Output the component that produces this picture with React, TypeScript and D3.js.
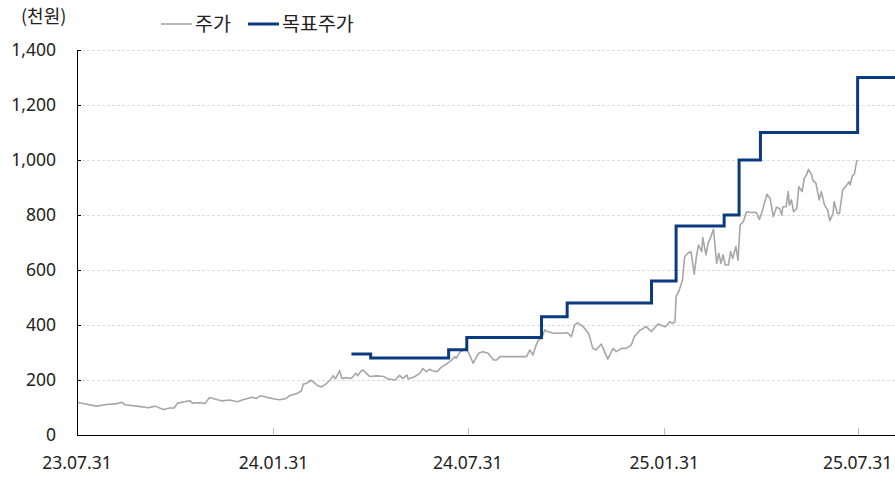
import React from 'react';
import * as d3 from 'd3';

const priceDates = [
  '2023-07-31','2023-08-08','2023-08-18','2023-08-28','2023-09-06','2023-09-11','2023-09-14','2023-09-25',
  '2023-10-06','2023-10-12','2023-10-20','2023-10-26','2023-10-30','2023-11-02','2023-11-08','2023-11-14',
  '2023-11-16','2023-11-22','2023-11-28','2023-12-02','2023-12-07','2023-12-14','2023-12-21','2023-12-28',
  '2024-01-04','2024-01-11','2024-01-15','2024-01-19','2024-01-26','2024-02-01','2024-02-06','2024-02-12',
  '2024-02-15','2024-02-22','2024-02-26','2024-02-28','2024-03-02','2024-03-06','2024-03-08','2024-03-13',
  '2024-03-16','2024-03-21','2024-03-24','2024-03-27','2024-03-29','2024-04-02','2024-04-04','2024-04-08',
  '2024-04-13','2024-04-17','2024-04-19','2024-04-22','2024-04-24','2024-04-26','2024-04-30','2024-05-07',
  '2024-05-13','2024-05-17','2024-05-24','2024-05-28','2024-05-31','2024-06-04','2024-06-05','2024-06-11',
  '2024-06-16','2024-06-19','2024-06-22','2024-06-25','2024-06-28','2024-07-02','2024-07-06','2024-07-11',
  '2024-07-16','2024-07-19','2024-07-20','2024-07-24','2024-07-27','2024-07-29','2024-08-01','2024-08-05',
  '2024-08-10','2024-08-14','2024-08-19','2024-08-24','2024-08-27','2024-08-30','2024-09-24','2024-09-27',
  '2024-09-30','2024-10-03','2024-10-05','2024-10-08','2024-10-11','2024-10-14','2024-10-19','2024-10-25',
  '2024-11-01','2024-11-05','2024-11-08','2024-11-11','2024-11-16','2024-11-21','2024-11-22','2024-11-25',
  '2024-11-28','2024-12-03','2024-12-06','2024-12-09','2024-12-14','2024-12-17','2024-12-22','2024-12-26',
  '2024-12-31','2025-01-03','2025-01-08','2025-01-14','2025-01-19','2025-01-25','2025-02-01','2025-02-05',
  '2025-02-08','2025-02-10','2025-02-11','2025-02-14','2025-02-17','2025-02-19','2025-02-22','2025-02-25',
  '2025-02-28','2025-03-02','2025-03-04','2025-03-07','2025-03-08','2025-03-11','2025-03-13','2025-03-15',
  '2025-03-18','2025-03-21','2025-03-23','2025-03-25','2025-03-27','2025-03-29','2025-04-01','2025-04-03',
  '2025-04-05','2025-04-08','2025-04-10','2025-04-12','2025-04-15','2025-04-18','2025-04-22','2025-04-27',
  '2025-04-30','2025-05-03','2025-05-07','2025-05-10','2025-05-13','2025-05-16','2025-05-19','2025-05-21',
  '2025-05-22','2025-05-25','2025-05-27','2025-05-28','2025-05-30','2025-06-01','2025-06-04','2025-06-06',
  '2025-06-09','2025-06-11','2025-06-13','2025-06-15','2025-06-18','2025-06-19','2025-06-22','2025-06-25',
  '2025-06-27','2025-06-30','2025-07-03','2025-07-05','2025-07-08','2025-07-09','2025-07-12','2025-07-14',
  '2025-07-17','2025-07-20','2025-07-23','2025-07-24','2025-07-26','2025-07-28','2025-07-30','2025-07-31',
];

const priceValues = [
  119,113,105,111,114,119,110,105,
  99,105,93,98,98,115,121,124,
  116,117,115,136,131,124,127,121,
  130,137,133,143,136,131,128,133,
  143,151,160,185,188,199,194,178,
  175,188,200,216,204,234,206,208,
  206,224,216,233,236,228,213,215,
  213,204,200,217,206,218,204,212,
  224,242,230,239,234,230,246,258,
  273,285,279,303,309,315,297,261,
  297,303,297,273,273,285,285,309,
  291,327,345,351,382,376,370,370,
  372,358,400,408,394,370,358,315,
  309,331,303,276,315,303,315,315,
  327,358,380,394,376,404,394,412,
  406,412,503,527,564,648,661,667,
  585,648,691,667,718,655,697,715,
  748,624,661,624,655,618,618,667,
  642,685,636,764,776,812,809,810,
  784,818,875,861,794,828,824,800,
  830,830,885,836,855,812,824,903,
  885,933,945,966,945,927,915,855,
  885,836,818,779,806,848,806,806,
  891,905,921,909,942,949,994,1000,
];

const targetDates = [
  '2024-04-13','2024-05-01','2024-07-13','2024-07-30','2024-10-08','2024-11-01',
  '2025-01-19','2025-02-11','2025-03-28','2025-04-11','2025-05-01','2025-07-31',
];
const targetValues = [295, 280, 310, 355, 430, 480, 560, 760, 800, 1000, 1100, 1300];

const yTicks = [0, 200, 400, 600, 800, 1000, 1200, 1400];
const xTickDates = ['2023-07-31', '2024-01-31', '2024-07-31', '2025-01-31', '2025-07-31'];
const xTickLabels = ['23.07.31', '24.01.31', '24.07.31', '25.01.31', '25.07.31'];
const domainStart = '2023-07-31';
const domainEnd = '2025-09-04';

const unitLabel = '(천원)';
const seriesNames = ['주가', '목표주가'];

const W = 895;
const H = 477;
const M = { left: 77, right: 0, top: 50, bottom: 42 };
const GREY = '#a6a6a6';
const NAVY = '#0b3a80';
const FONT = '"Noto Sans", "Noto Sans CJK KR", sans-serif';
const KFONT = '"Noto Sans CJK KR", "Noto Sans", sans-serif';

export default function App() {
  const parse = d3.timeParse('%Y-%m-%d');
  const x = d3
    .scaleTime()
    .domain([parse(domainStart)!, parse(domainEnd)!])
    .range([M.left, W - M.right]);
  const y = d3.scaleLinear().domain([0, 1400]).range([H - M.bottom, M.top]);

  const price = priceDates.map((d, i) => ({ date: parse(d)!, value: priceValues[i] }));
  const target = targetDates.map((d, i) => ({ date: parse(d)!, value: targetValues[i] }));
  target.push({ date: parse(domainEnd)!, value: targetValues[targetValues.length - 1] });

  const priceLine = d3
    .line<{ date: Date; value: number }>()
    .x((d) => x(d.date))
    .y((d) => y(d.value))
    .curve(d3.curveLinear);
  const targetLine = d3
    .line<{ date: Date; value: number }>()
    .x((d) => x(d.date))
    .y((d) => y(d.value))
    .curve(d3.curveStepAfter);

  const x0 = M.left;
  const x1 = W - M.right;
  const yBase = y(0);

  return (
    <>
      <style>{`body{margin:0;}`}</style>
      <svg width={W} height={H} style={{ display: 'block', background: '#fff' }}>
        {yTicks
          .filter((t) => t > 0)
          .map((t) => (
            <line
              key={'g' + t}
              x1={x0}
              x2={x1}
              y1={Math.round(y(t)) + 0.5}
              y2={Math.round(y(t)) + 0.5}
              stroke="#dcdcdc"
              strokeWidth={1}
              strokeDasharray="3,2"
            />
          ))}

        {yTicks.map((t) => (
          <g key={'y' + t}>
            <line
              x1={x0}
              x2={x0 + 4}
              y1={Math.round(y(t)) + 0.5}
              y2={Math.round(y(t)) + 0.5}
              stroke="#000"
              strokeWidth={1}
            />
            <text
              x={56}
              y={y(t)}
              dy="0.35em"
              textAnchor="end"
              fontFamily={FONT}
              fontSize={17.5}
              fill="#222"
            >
              {d3.format(',')(t)}
            </text>
          </g>
        ))}

        {xTickDates.map((d, i) => {
          const xp = Math.round(x(parse(d)!)) + 0.5;
          return (
            <g key={'x' + d}>
              <line x1={xp} x2={xp} y1={yBase} y2={yBase - 7} stroke="#bbb" strokeWidth={1} />
              <text
                x={x(parse(d)!)}
                y={469}
                textAnchor="middle"
                fontFamily={FONT}
                fontSize={17.5}
                fill="#222"
              >
                {xTickLabels[i]}
              </text>
            </g>
          );
        })}

        <path d={priceLine(price) || ''} fill="none" stroke={GREY} strokeWidth={1.6} strokeLinejoin="round" />
        <path d={targetLine(target) || ''} fill="none" stroke={NAVY} strokeWidth={3} />

        <line x1={x0 + 0.5} x2={x0 + 0.5} y1={M.top} y2={yBase + 0.5} stroke="#000" strokeWidth={1} />
        <line x1={x0} x2={x1} y1={Math.round(yBase) + 0.5} y2={Math.round(yBase) + 0.5} stroke="#000" strokeWidth={1} />

        <text x={21} y={17} dy="0.35em" fontFamily={KFONT} fontSize={18} fill="#222">
          {unitLabel}
        </text>

        <line x1={161} x2={192} y1={24} y2={24} stroke={GREY} strokeWidth={1.6} />
        <text x={195} y={24} dy="0.35em" fontFamily={KFONT} fontSize={19.5} fill="#222">
          {seriesNames[0]}
        </text>
        <line x1={248} x2={279} y1={24} y2={24} stroke={NAVY} strokeWidth={3} />
        <text x={282} y={24} dy="0.35em" fontFamily={KFONT} fontSize={19.5} fill="#222">
          {seriesNames[1]}
        </text>
      </svg>
    </>
  );
}
